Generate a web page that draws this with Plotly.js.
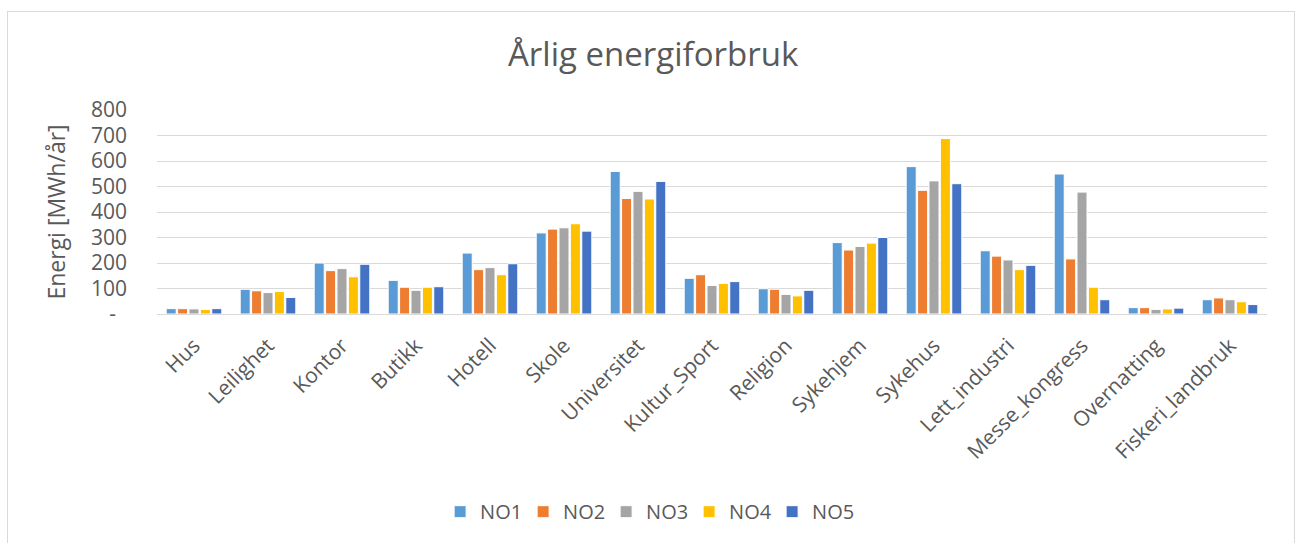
<!DOCTYPE html>
<html>
<head>
<meta charset="utf-8">
<script src="https://cdn.plot.ly/plotly-3.0.1.min.js"></script>
<style>
html,body{margin:0;padding:0;background:#fff;}
#frame{position:absolute;left:7px;top:11px;width:1288px;height:560px;border:1px solid #d9d9d9;box-sizing:border-box;pointer-events:none;z-index:5;}
#chart{position:absolute;left:0;top:0;width:1301px;height:543px;}
</style>
</head>
<body>
<div id="chart"></div>
<div id="frame"></div>
<script>
const categories = ["Hus","Leilighet","Kontor","Butikk","Hotell","Skole","Universitet","Kultur_Sport","Religion","Sykehjem","Sykehus","Lett_industri","Messe_kongress","Overnatting","Fiskeri_landbruk"];
const seriesNames = ["NO1","NO2","NO3","NO4","NO5"];
const NO1 = [21, 97, 200, 132, 239, 318, 559, 140, 99, 280, 578, 248, 549, 25, 56];
const NO2 = [21, 91, 170, 105, 174, 333, 453, 154, 97, 251, 485, 227, 216, 25, 63];
const NO3 = [20, 84, 178, 93, 182, 338, 481, 112, 77, 265, 522, 212, 478, 18, 56];
const NO4 = [18, 88, 146, 105, 154, 354, 451, 120, 71, 278, 688, 174, 105, 20, 48];
const NO5 = [21, 65, 195, 107, 197, 325, 520, 127, 93, 300, 511, 191, 56, 23, 37];
const yTickVals = [0,100,200,300,400,500,600,700,800];
const yTickText = ["-\u00a0\u00a0","100","200","300","400","500","600","700","800"];
const colors = ["#5B9BD5","#ED7D31","#A5A5A5","#FFC000","#4472C4"];

const values = [NO1, NO2, NO3, NO4, NO5];
const traces = seriesNames.map((name, i) => ({
  type: "bar",
  name: name,
  x: categories,
  y: values[i],
  marker: {color: colors[i], line: {color: "#ffffff", width: 1}},
  hoverinfo: "x+y+name"
}));

const fontFam = "'Open Sans', 'Noto Sans', sans-serif";
const layout = {
  width: 1301,
  height: 543,
  paper_bgcolor: "#ffffff",
  plot_bgcolor: "#ffffff",
  margin: {l: 157, r: 34, t: 110, b: 229, pad: 0, autoexpand: false},
  font: {family: fontFam, color: "#595959", size: 20},
  title: {
    text: "Årlig energiforbruk",
    font: {family: fontFam, size: 33, color: "#595959"},
    x: 0.502, xanchor: "center",
    y: 0.899, yref: "container", yanchor: "middle"
  },
  barmode: "group",
  bargap: 0.23,
  bargroupgap: 0.12,
  showlegend: true,
  legend: {
    orientation: "h",
    x: 0.442, xanchor: "center",
    y: -0.969, yanchor: "middle",
    font: {family: fontFam, size: 20, color: "#595959"},
    itemwidth: 30,
    entrywidthmode: "pixels",
    entrywidth: 38,
    traceorder: "normal"
  },
  xaxis: {
    type: "category",
    tickangle: -45,
    tickfont: {family: fontFam, size: 21, color: "#595959"},
    showgrid: false,
    showline: true,
    linecolor: "#d9d9d9",
    linewidth: 1,
    ticks: "",
    ticklabelstandoff: 10,
    automargin: false,
    fixedrange: true
  },
  yaxis: {
    range: [0, 800],
    tickvals: yTickVals,
    ticktext: yTickText,
    tickfont: {family: fontFam, size: 21, color: "#595959"},
    showgrid: true,
    gridcolor: "#d9d9d9",
    gridwidth: 1,
    zeroline: true,
    zerolinecolor: "#d9d9d9",
    zerolinewidth: 1,
    showline: false,
    ticks: "",
    ticklabelstandoff: 29,
    automargin: false,
    title: {text: "Energi [MWh/år]", font: {family: fontFam, size: 23, color: "#595959"}, standoff: 18},
    fixedrange: true
  }
};

Plotly.newPlot("chart", traces, layout, {displayModeBar: false, staticPlot: true});
</script>
</body>
</html>
